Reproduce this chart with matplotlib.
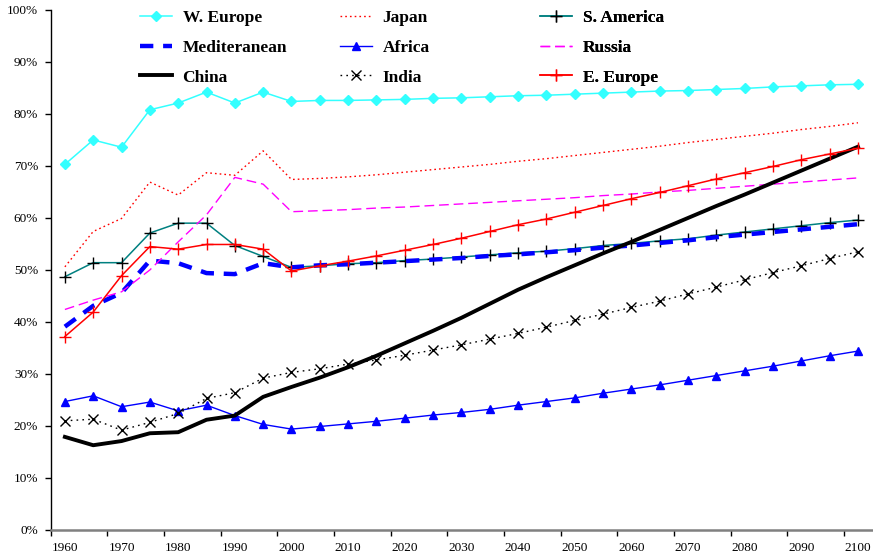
import matplotlib
matplotlib.use("Agg")
import matplotlib.pyplot as plt
from matplotlib.ticker import FixedLocator, FuncFormatter

plt.rcParams["font.family"] = ["Liberation Serif", "DejaVu Serif"]

years = list(range(1960, 2101, 5))

w_europe = [70.3, 75.0, 73.6, 80.8, 82.1, 84.2, 82.1, 84.2, 82.4, 82.6,
            82.6, 82.7, 82.8, 83.0, 83.1, 83.3, 83.5, 83.6, 83.8, 84.0,
            84.2, 84.4, 84.5, 84.7, 84.9, 85.2, 85.4, 85.6, 85.7]
japan = [50.6, 57.4, 59.9, 66.9, 64.4, 68.7, 68.2, 72.9, 67.4, 67.6,
         67.9, 68.3, 68.8, 69.3, 69.8, 70.3, 70.9, 71.4, 72.0, 72.6,
         73.2, 73.8, 74.5, 75.1, 75.7, 76.3, 77.0, 77.6, 78.3]
s_america = [48.7, 51.4, 51.4, 57.1, 59.0, 59.0, 54.7, 52.6, 50.5, 50.8,
             51.2, 51.4, 51.8, 52.1, 52.5, 52.9, 53.3, 53.6, 54.1, 54.7,
             55.1, 55.6, 56.0, 56.7, 57.3, 57.9, 58.5, 59.1, 59.6]
mediterranean = [39.1, 43.1, 45.6, 51.8, 51.3, 49.4, 49.2, 51.3, 50.5, 50.9,
                 51.1, 51.4, 51.7, 52.0, 52.3, 52.7, 53.0, 53.4, 53.8, 54.3,
                 54.7, 55.2, 55.7, 56.3, 56.8, 57.3, 57.8, 58.3, 58.8]
africa = [24.7, 25.8, 23.7, 24.6, 22.9, 24.0, 22.0, 20.3, 19.4, 19.9,
          20.4, 20.9, 21.5, 22.1, 22.6, 23.2, 24.0, 24.7, 25.4, 26.3,
          27.1, 27.9, 28.8, 29.7, 30.6, 31.5, 32.5, 33.5, 34.4]
russia = [42.4, 44.2, 45.8, 50.0, 55.4, 60.6, 67.8, 66.5, 61.2, 61.4,
          61.6, 61.9, 62.1, 62.4, 62.7, 63.0, 63.3, 63.6, 63.9, 64.3,
          64.6, 65.0, 65.3, 65.7, 66.1, 66.5, 66.9, 67.3, 67.7]
china = [17.9, 16.3, 17.1, 18.6, 18.8, 21.2, 22.0, 25.6, 27.5, 29.3,
         31.3, 33.5, 35.9, 38.3, 40.8, 43.5, 46.2, 48.6, 50.9, 53.2,
         55.4, 57.7, 60.0, 62.3, 64.5, 66.8, 69.1, 71.4, 73.7]
india = [21.0, 21.3, 19.2, 20.7, 22.4, 25.3, 26.4, 29.2, 30.3, 31.0,
         31.9, 32.7, 33.6, 34.6, 35.6, 36.7, 37.8, 39.0, 40.3, 41.5,
         42.8, 44.0, 45.4, 46.7, 48.1, 49.5, 50.8, 52.2, 53.5]
e_europe = [37.2, 41.9, 48.9, 54.5, 54.0, 54.9, 54.9, 54.0, 49.8, 50.8,
            51.7, 52.7, 53.8, 54.9, 56.1, 57.4, 58.7, 59.8, 61.1, 62.4,
            63.7, 64.9, 66.2, 67.5, 68.7, 69.9, 71.2, 72.3, 73.4]

fig = plt.figure(figsize=(8.73, 5.58), dpi=100)
ax = fig.add_axes([0.0581, 0.0502, 0.9409, 0.932])

h = {}
h["W. Europe"], = ax.plot(years, w_europe, color="#33FFFF", lw=1.1,
                          marker="D", ms=5.5, mfc="#33FFFF", mec="#33FFFF")
h["Japan"], = ax.plot(years, japan, color="#FF0000", lw=1.0, ls=(0, (1.2, 2.2)))
h["S. America"], = ax.plot(years, s_america, color="#008080", lw=1.1,
                           marker="+", ms=9, mec="black", mew=1.0)
h["Mediterranean"], = ax.plot(years, mediterranean, color="#0000FF", lw=3.2,
                              ls=(0, (3, 2.2)))
h["Africa"], = ax.plot(years, africa, color="#0000FF", lw=1.0,
                       marker="^", ms=6, mfc="#0000FF", mec="#0000FF")
h["Russia"], = ax.plot(years, russia, color="#FF00FF", lw=1.0, ls=(0, (7, 3.5)))
h["China"], = ax.plot(years, china, color="black", lw=2.8)
h["India"], = ax.plot(years, india, color="black", lw=1.0, ls=(0, (1.2, 3)),
                      marker="x", ms=7, mew=1.0)
h["E. Europe"], = ax.plot(years, e_europe, color="#FF0000", lw=1.1,
                          marker="+", ms=9, mec="#FF0000", mew=1.0)

ax.set_xlim(1957.5, 2102.5)
ax.set_ylim(0, 100)

# category boundaries carry the tick marks, labels sit on the data points
ax.xaxis.set_major_locator(FixedLocator(list(range(1960, 2101, 10))))
ax.xaxis.set_minor_locator(FixedLocator([1957.5 + 10 * k for k in range(15)]))
ax.tick_params(axis="x", which="major", length=0, pad=9, labelsize=9.5)
ax.tick_params(axis="x", which="minor", length=4, width=1, direction="out",
               color="black")
ax.yaxis.set_major_locator(FixedLocator(list(range(0, 101, 10))))
ax.yaxis.set_major_formatter(FuncFormatter(lambda v, p: f"{v:.0f}%"))
ax.tick_params(axis="y", length=4, width=1, direction="out", labelsize=9.5,
               pad=5)

for s in ("top", "right"):
    ax.spines[s].set_visible(False)
ax.spines["left"].set_color("black")
ax.spines["left"].set_linewidth(1.0)
ax.spines["bottom"].set_color("#808080")
ax.spines["bottom"].set_linewidth(1.8)

columns = [["W. Europe", "Mediterranean", "China"],
           ["Japan", "Africa", "India"],
           ["S. America", "Russia", "E. Europe"]]
col_x = [140, 340, 540]
W, H = 873, 558
for names, x0 in zip(columns, col_x):
    leg = ax.legend([h[n] for n in names],
                    ["Mediteranean" if n == "Mediterranean" else n for n in names],
                    loc="upper left", bbox_to_anchor=(x0 / W, 1 - 10 / H),
                    bbox_transform=fig.transFigure, frameon=False,
                    prop={"weight": "bold", "size": 12.5}, numpoints=1,
                    handlelength=1.85, handletextpad=0.6, labelspacing=0.78,
                    borderpad=0, borderaxespad=0)
    ax.add_artist(leg)

fig.savefig("out.png", dpi=100)
